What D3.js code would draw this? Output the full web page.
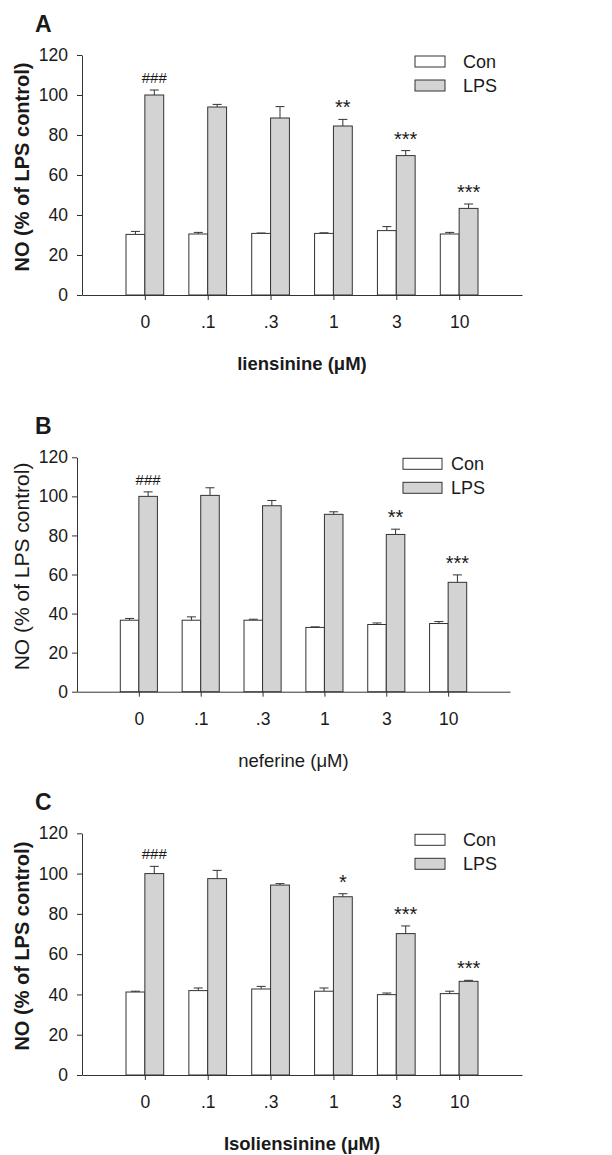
<!DOCTYPE html>
<html>
<head>
<meta charset="utf-8">
<script src="https://cdn.jsdelivr.net/npm/d3@7"></script>
<style>
  body { margin: 0; background: #fff; }
  svg text { font-family: "Liberation Sans", Arial, sans-serif; fill: #1a1a1a; }
</style>
</head>
<body>
<svg id="chart" width="612" height="1155"></svg>
<script>
// doses (x categories) and y ticks, shared by the three panels
const doses = ["0", ".1", ".3", "1", "3", "10"];
const yTicks = [0, 20, 40, 60, 80, 100, 120];
const seriesNames = ["Con", "LPS"];

// A - liensinine
const conA = [30.3, 30.5, 30.8, 30.8, 32.2, 30.5];
const conErrA = [1.5, 0.8, 0.2, 0.3, 2.0, 0.8];
const lpsA = [100, 94, 88.5, 84.5, 69.7, 43.3];
const lpsErrA = [2.5, 1.3, 5.7, 3.3, 2.5, 2.2];
const sigA = ["###", "", "", "**", "***", "***"];

// B - neferine
const conB = [36.6, 36.6, 36.6, 32.9, 34.4, 34.9];
const conErrB = [0.9, 1.7, 0.5, 0.3, 0.8, 1.0];
const lpsB = [100, 100.5, 95.2, 90.8, 80.5, 56.0];
const lpsErrB = [2.3, 3.9, 2.7, 1.3, 2.7, 3.8];
const sigB = ["###", "", "", "", "**", "***"];

// C - isoliensinine
const conC = [41.2, 41.9, 42.7, 41.6, 39.9, 40.4];
const conErrC = [0.4, 1.3, 1.3, 1.6, 0.8, 1.2];
const lpsC = [100, 97.5, 94.3, 88.5, 70.2, 46.5];
const lpsErrC = [3.6, 4.1, 0.7, 1.5, 3.8, 0.5];
const sigC = ["###", "", "", "*", "***", "***"];

const panels = [
  { letter: "A", xTitle: "liensinine (\u03bcM)", bold: true,
    con: conA, conErr: conErrA, lps: lpsA, lpsErr: lpsErrA, sig: sigA,
    left: 82, right: 522, top: 55, bottom: 295,
    legX: 415, legW: 30, legGap: 18, yTitleFont: 20 },
  { letter: "B", xTitle: "neferine (\u03bcM)", bold: false,
    con: conB, conErr: conErrB, lps: lpsB, lpsErr: lpsErrB, sig: sigB,
    left: 77, right: 510, top: 457.3, bottom: 691.7,
    legX: 403, legW: 39, legGap: 9, yTitleFont: 21 },
  { letter: "C", xTitle: "Isoliensinine (\u03bcM)", bold: true,
    con: conC, conErr: conErrC, lps: lpsC, lpsErr: lpsErrC, sig: sigC,
    left: 82, right: 522, top: 833.3, bottom: 1075,
    legX: 415, legW: 30, legGap: 18, yTitleFont: 20 }
];

const stroke = "#333";
const lpsFill = "#d3d3d3";
const svg = d3.select("#chart");

panels.forEach((p) => {
  const g = svg.append("g");
  const x = d3.scalePoint().domain(doses).range([p.left, p.right]).padding(1);
  const y = d3.scaleLinear().domain([0, 120]).range([p.bottom, p.top]);
  const bw = x.step() * 0.3;

  // y axis
  const yAxis = g.append("g")
    .attr("transform", "translate(" + p.left + ",0)")
    .call(d3.axisLeft(y).tickValues(yTicks).tickSize(5).tickSizeOuter(0)
      .tickPadding(p.left - 68 - 5));
  yAxis.selectAll("text").style("font-size", "17.5px")
    .style("font-family", "Liberation Sans, Arial, sans-serif").attr("fill", "#1a1a1a");

  // x axis
  const xAxis = g.append("g")
    .attr("transform", "translate(0," + p.bottom + ")")
    .call(d3.axisBottom(x).tickSize(5).tickSizeOuter(0));
  xAxis.selectAll("text").attr("y", 33).attr("dy", null)
    .style("font-size", "17.5px")
    .style("font-family", "Liberation Sans, Arial, sans-serif").attr("fill", "#1a1a1a");
  g.selectAll(".domain, .tick line").attr("stroke", stroke);

  // bars
  const rows = doses.map((d, i) => ({
    dose: d, con: p.con[i], conErr: p.conErr[i],
    lps: p.lps[i], lpsErr: p.lpsErr[i], sig: p.sig[i]
  }));

  // error bars (upper only), drawn first so bars sit on top of stem
  const errs = [];
  rows.forEach((r) => {
    errs.push({ cx: x(r.dose) - bw / 2, v: r.con, e: r.conErr });
    errs.push({ cx: x(r.dose) + bw / 2, v: r.lps, e: r.lpsErr });
  });
  g.selectAll(".err")
    .data(errs)
    .enter()
    .append("path")
    .attr("class", "err")
    .attr("fill", "none")
    .attr("stroke", stroke)
    .attr("d", (d) => "M" + d.cx + "," + y(d.v) + "V" + y(d.v + d.e) +
      "M" + (d.cx - 4.5) + "," + y(d.v + d.e) + "H" + (d.cx + 4.5));

  g.selectAll(".con")
    .data(rows)
    .enter()
    .append("rect")
    .attr("x", (d) => x(d.dose) - bw)
    .attr("y", (d) => y(d.con))
    .attr("width", bw)
    .attr("height", (d) => y(0) - y(d.con))
    .attr("fill", "#fff")
    .attr("stroke", stroke);

  g.selectAll(".lps")
    .data(rows)
    .enter()
    .append("rect")
    .attr("x", (d) => x(d.dose))
    .attr("y", (d) => y(d.lps))
    .attr("width", bw)
    .attr("height", (d) => y(0) - y(d.lps))
    .attr("fill", lpsFill)
    .attr("stroke", stroke);

  // significance marks above LPS bars
  g.selectAll(".sig")
    .data(rows.filter((d) => d.sig))
    .enter()
    .append("text")
    .attr("x", (d) => x(d.dose) + bw / 2)
    .attr("y", (d) => y(d.lps + d.lpsErr) - (d.sig[0] === "#" ? 7 : 5))
    .attr("text-anchor", "middle")
    .style("font-size", (d) => (d.sig[0] === "#" ? "15px" : "20px"))
    .text((d) => d.sig);

  // panel letter
  g.append("text")
    .attr("x", 35)
    .attr("y", p.top - 23)
    .style("font-size", "23px")
    .style("font-weight", "bold")
    .text(p.letter);

  // axis titles
  g.append("text")
    .attr("transform", "translate(28.5," + ((p.top + p.bottom) / 2 - 8) + ") rotate(-90)")
    .attr("text-anchor", "middle")
    .style("font-size", p.yTitleFont + "px")
    .style("font-weight", p.bold ? "bold" : "normal")
    .text("NO (% of LPS control)");

  g.append("text")
    .attr("x", (x(doses[0]) + x(doses[doses.length - 1])) / 2)
    .attr("y", p.bottom + 75)
    .attr("text-anchor", "middle")
    .style("font-size", "18.5px")
    .style("font-weight", p.bold ? "bold" : "normal")
    .text(p.xTitle);

  // legend
  const leg = g.append("g")
    .attr("transform", "translate(" + p.legX + "," + (p.top + 1) + ")");
  leg.selectAll("rect")
    .data(seriesNames)
    .enter()
    .append("rect")
    .attr("x", 0)
    .attr("y", (d, i) => i * 24)
    .attr("width", p.legW)
    .attr("height", 11)
    .attr("fill", (d, i) => (i === 0 ? "#fff" : lpsFill))
    .attr("stroke", stroke);
  leg.selectAll("text")
    .data(seriesNames)
    .enter()
    .append("text")
    .attr("x", p.legW + p.legGap)
    .attr("y", (d, i) => i * 24 + 5.5 + 6.3)
    .style("font-size", "18px")
    .text((d) => d);
});
</script>
</body>
</html>
